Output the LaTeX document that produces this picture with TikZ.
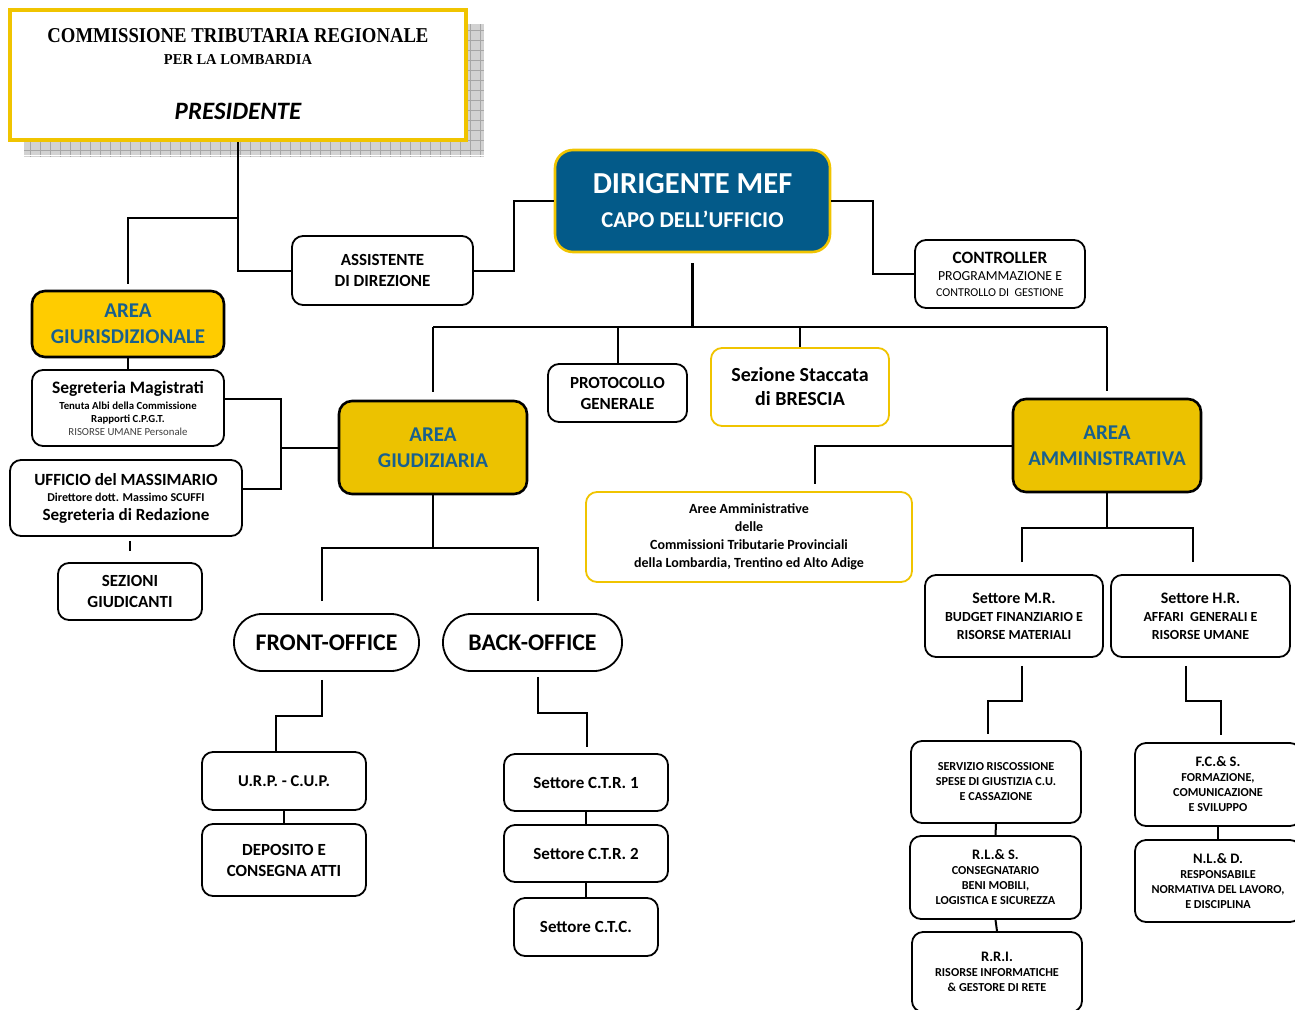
\documentclass[tikz,border=0pt]{standalone}
\usepackage{graphicx}
\usepackage{fontspec}
\setmainfont{Carlito}
\newfontfamily\titlefont{Liberation Serif}
\newcommand\fsz[2]{\fontsize{#1}{#2}\selectfont}

\definecolor{mefblue}{RGB}{3,90,137}
\definecolor{linegold}{RGB}{240,196,0}
\definecolor{areagold}{RGB}{236,194,0}
\definecolor{giurgold}{RGB}{255,204,0}
\definecolor{areablue}{RGB}{24,96,142}

\tikzset{
  box/.style={draw, line width=1.8pt, rounded corners=11pt, fill=white, align=center, inner sep=0pt, font=\bfseries},
  goldbox/.style={box, draw=linegold},
  areabox/.style={box, line width=2.6pt, fill=areagold, text=areablue, rounded corners=13pt, font=\fsz{21}{26}\bfseries},
  pill/.style={box, rounded corners=28pt, font=\fsz{23.8}{28}\bfseries},
  smallbox/.style={box, font=\fsz{12.2}{15}\bfseries},
  link/.style={line width=2pt},
}

\begin{document}
\begin{tikzpicture}[x=1pt,y=-1pt]
\useasboundingbox (0,0) rectangle (1295,1009);

% presidente
\fill[gray!35] (24,24) rectangle (484,157);
\draw[gray!70, line width=0.8pt, step=10pt] (24,24) grid (484,157);
\draw[white, line width=1pt] (24,155) -- (484,155) -- (484,24);
\node[draw=linegold, line width=4pt, fill=white, inner sep=0pt, minimum width=456pt, minimum height=130pt] (ctr) at (238,75) {};
\node (ctrname) at (238,36) {\titlefont\bfseries\resizebox{381pt}{14pt}{COMMISSIONE TRIBUTARIA REGIONALE}};
\node (ctrreg) at (238,60) {\titlefont\bfseries\resizebox{148pt}{10pt}{PER LA LOMBARDIA}};
\node (pres) at (238,111) {\fsz{25}{30}\bfseries\itshape PRESIDENTE};

% vertice
\node[box, minimum width=181pt, minimum height=69pt, font=\fsz{17}{21}\bfseries] (assist) at (382.5,270.5) {ASSISTENTE\\DI DIREZIONE};
\node[box, draw=linegold, fill=mefblue, text=white, line width=2.6pt, rounded corners=18pt, minimum width=275pt, minimum height=102pt, font=\fsz{22.7}{34}\bfseries] (dir) at (692.5,201) {{\fsz{30.5}{34}DIRIGENTE MEF}\\CAPO DELL’UFFICIO};
\node[box, minimum width=170pt, minimum height=68pt, font=\fsz{12}{16}] (ctrl) at (1000,274) {{\fsz{17.3}{16}\bfseries CONTROLLER}\\[1pt]{\fsz{13.8}{16}PROGRAMMAZIONE E}\\CONTROLLO DI~~GESTIONE};
\node[box, minimum width=139pt, minimum height=58pt, font=\fsz{17}{21}\bfseries] (proto) at (617.5,393) {PROTOCOLLO\\GENERALE};
\node[goldbox, minimum width=178pt, minimum height=78pt, font=\fsz{20}{24}\bfseries] (bres) at (800,387) {Sezione Staccata\\di BRESCIA};

% area giurisdizionale
\node[areabox, fill=giurgold, minimum width=192pt, minimum height=66pt] (giur) at (128,324) {AREA\\GIURISDIZIONALE};
\node[box, minimum width=192pt, minimum height=76pt, font=\fsz{10.8}{13}\bfseries] (segr) at (128,408) {{\fsz{17.5}{13}Segreteria Magistrati}\\[3pt]Tenuta Albi della Commissione\\Rapporti C.P.G.T.\\{\mdseries\color{darkgray}RISORSE UMANE Personale}};
\node[box, minimum width=232pt, minimum height=76pt, font=\fsz{12}{16}\bfseries] (mass) at (126,498) {{\fsz{17.1}{16}UFFICIO del MASSIMARIO}\\Direttore dott. Massimo SCUFFI\\[3pt]{\fsz{17.1}{16}Segreteria di Redazione}};
\node[box, minimum width=144pt, minimum height=57pt, font=\fsz{17}{21}\bfseries] (sez) at (130,591.5) {SEZIONI\\GIUDICANTI};

% area giudiziaria
\node[areabox, minimum width=188pt, minimum height=93pt] (giud) at (433,447.5) {AREA\\GIUDIZIARIA};
\node[pill, minimum width=185pt, minimum height=57pt] (fo) at (326.5,642.5) {FRONT-OFFICE};
\node[pill, minimum width=179pt, minimum height=57pt] (bo) at (532.5,642.5) {BACK-OFFICE};
\node[box, minimum width=164pt, minimum height=58pt, font=\fsz{16.5}{21}\bfseries] (urp) at (284,781) {U.R.P. - C.U.P.};
\node[box, minimum width=164pt, minimum height=72pt, font=\fsz{17}{21}\bfseries] (depo) at (284,860) {DEPOSITO E\\CONSEGNA ATTI};
\node[box, minimum width=164pt, minimum height=57pt, font=\fsz{17}{21}\bfseries] (ctr1) at (586,782.5) {Settore C.T.R. 1};
\node[box, minimum width=164pt, minimum height=57pt, font=\fsz{17}{21}\bfseries] (ctr2) at (586,853.5) {Settore C.T.R. 2};
\node[box, minimum width=144pt, minimum height=58pt, font=\fsz{17}{21}\bfseries] (ctc) at (586,927) {Settore C.T.C.};

% area amministrativa
\node[areabox, minimum width=188pt, minimum height=93pt] (amm) at (1107,445.5) {AREA\\AMMINISTRATIVA};
\node[goldbox, minimum width=326pt, minimum height=90pt, font=\fsz{14}{18}\bfseries] (aree) at (749,537) {Aree Amministrative\\delle\\Commissioni Tributarie Provinciali\\della Lombardia, Trentino ed Alto Adige};
\node[box, minimum width=178pt, minimum height=82pt, font=\fsz{13.9}{18}\bfseries] (smr) at (1014,616) {{\fsz{16}{18}Settore M.R.}\\BUDGET FINANZIARIO E\\RISORSE MATERIALI};
\node[box, minimum width=179pt, minimum height=82pt, font=\fsz{13.9}{18}\bfseries] (shr) at (1200.5,616) {{\fsz{16}{18}Settore H.R.}\\AFFARI~~GENERALI E\\RISORSE UMANE};
\node[smallbox, minimum width=170pt, minimum height=82pt] (serv) at (996,782) {SERVIZIO RISCOSSIONE\\SPESE DI GIUSTIZIA C.U.\\E CASSAZIONE};
\node[smallbox, minimum width=171pt, minimum height=83pt] (rls) at (995.5,877.5) {{\fsz{14.5}{15}R.L.\& S.}\\CONSEGNATARIO\\BENI MOBILI,\\LOGISTICA E SICUREZZA};
\node[smallbox, minimum width=170pt, minimum height=80pt] (rri) at (997,972) {{\fsz{14.5}{15}R.R.I.}\\RISORSE INFORMATICHE\\\& GESTORE DI RETE};
\node[smallbox, minimum width=166pt, minimum height=83pt] (fcs) at (1218,784.5) {{\fsz{14.5}{15}F.C.\& S.}\\FORMAZIONE,\\COMUNICAZIONE\\E SVILUPPO};
\node[smallbox, minimum width=166pt, minimum height=82pt] (nld) at (1218,881) {{\fsz{14.5}{15}N.L.\& D.}\\RESPONSABILE\\NORMATIVA DEL LAVORO,\\E DISCIPLINA};

% collegamenti
\coordinate (jt) at (238,218);
\coordinate (bus) at (692.5,327);
\coordinate (jg) at (281,447.5);
\coordinate (jf) at (433,548);
\coordinate (ja) at (1107,528);

\draw[link] (ctr.south) |- (assist.west);
\draw[link] (jt) -| ([yshift=6pt]giur.north);
\draw[link] (assist.east) -- ++(40,0) |- (dir.west);
\draw[link] (dir.east) -- ++(42,0) |- (ctrl.west);

\draw[link, line width=3pt] ([yshift=-10pt]dir.south) -- (bus);
\draw[link, line width=2.4pt] (giud.north |- bus) -- (amm.north |- bus);
\draw[link] (giud.north |- bus) -- ([yshift=8pt]giud.north);
\draw[link] (proto.north |- bus) -- (proto.north);
\draw[link] (bres.north |- bus) -- (bres.north);
\draw[link] (amm.north |- bus) -- ([yshift=7pt]amm.north);

\draw[link] (giur.south) -- (segr.north);
\draw[link] ([yshift=9pt]segr.east) -| (jg) |- ([yshift=9pt]mass.east);
\draw[link] (jg) -- (giud.west);
\draw[link] ([yshift=-4pt]mass.south -| sez.north) -- ([yshift=11pt]sez.north);

\draw[link] (giud.south) -- (jf);
\draw[link] ([xshift=-4.5pt,yshift=12pt]fo.north) |- (jf) -| ([xshift=5.5pt,yshift=12pt]bo.north);
\draw[link] ([xshift=-4.5pt,yshift=-8pt]fo.south) -- ++(0,36) -| ([xshift=-8pt]urp.north);
\draw[link] ([xshift=5.5pt,yshift=-5pt]bo.south) -- ++(0,36) -| ([xshift=1pt,yshift=6pt]ctr1.north);
\draw[link] (urp.south) -- (depo.north);
\draw[link] (ctr1.south) -- (ctr2.north);
\draw[link] (ctr2.south) -- (ctc.north);

\draw[link] (amm.west) -| ([xshift=66pt,yshift=7pt]aree.north);
\draw[link] (amm.south) -- (ja);
\draw[link] ([xshift=8pt,yshift=12pt]smr.north) |- (ja) -| ([xshift=-7.5pt,yshift=12pt]shr.north);
\draw[link] ([xshift=8pt,yshift=-8pt]smr.south) -- ++(0,35) -| ([xshift=-8pt,yshift=6pt]serv.north);
\draw[link] ([xshift=-14.5pt,yshift=-8pt]shr.south) -- ++(0,35) -| ([xshift=3pt,yshift=7pt]fcs.north);
\draw[link] (serv.south) -- (rls.north);
\draw[link] (rls.south) -- (rri.north);
\draw[link] (fcs.south) -- (nld.north);

\end{tikzpicture}
\end{document}
